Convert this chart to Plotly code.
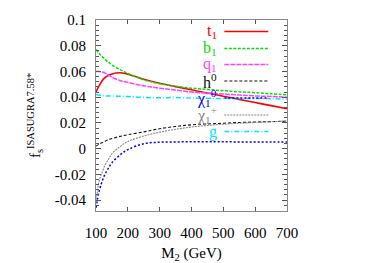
import plotly.graph_objects as go

# ---- data ----
m2 = [100, 110, 120, 130, 140, 150, 175, 200, 250, 300, 350, 400, 450, 500, 550, 600, 650, 700]

t1 = [0.044, 0.049, 0.053, 0.0555, 0.057, 0.058, 0.059, 0.0578, 0.054, 0.0508, 0.0482,
      0.0457, 0.0432, 0.0407, 0.0383, 0.0358, 0.0334, 0.031]
b1 = [0.077, 0.074, 0.0715, 0.069, 0.067, 0.065, 0.0615, 0.0585, 0.0535, 0.0505, 0.0485,
      0.047, 0.046, 0.045, 0.0442, 0.0435, 0.0426, 0.0418]
q1 = [0.060, 0.060, 0.0595, 0.0585, 0.057, 0.0555, 0.053, 0.0515, 0.0488, 0.047, 0.0455,
      0.044, 0.0432, 0.0425, 0.0417, 0.041, 0.0405, 0.040]
h0 = [0.002, 0.0035, 0.0048, 0.006, 0.007, 0.0078, 0.0095, 0.0108, 0.013, 0.0155, 0.0172,
      0.0185, 0.0192, 0.0197, 0.0203, 0.0207, 0.021, 0.0213]
chi10 = [-0.046, -0.033, -0.025, -0.019, -0.0148, -0.011, -0.005, -0.0008, 0.0038, 0.005,
         0.0052, 0.0053, 0.0053, 0.0053, 0.0052, 0.0052, 0.0052, 0.0052]
chi1p = [-0.042, -0.025, -0.018, -0.012, -0.008, -0.004, 0.0015, 0.0055, 0.0098, 0.0128,
         0.015, 0.0168, 0.018, 0.019, 0.0197, 0.0203, 0.0209, 0.0215]
gl = [0.042, 0.0415, 0.0412, 0.041, 0.041, 0.041, 0.0407, 0.0405, 0.0398, 0.0395, 0.0397,
      0.0393, 0.0391, 0.039, 0.039, 0.039, 0.0388, 0.0385]

series = [
    ("t<sub>1</sub>", t1, "#ff0000", "solid", 1.6),
    ("b<sub>1</sub>", b1, "#00e000", "3px,1.5px", 1.5),
    ("q<sub>1</sub>", q1, "#ff44ff", "5px,1px", 1.5),
    ("h<sup>0</sup>", h0, "#111111", "3px,2px", 1.1),
    ("χ<sub>1</sub><sup>0</sup>", chi10, "#0000ff", "2px,2px", 1.5),
    ("χ<sub>1</sub><sup>+</sup>", chi1p, "#888888", "2px,1px", 1.1),
    ("g", gl, "#00e5ff", "5px,2px,1px,2px", 1.5),
]

FONT = "Liberation Serif"

fig = go.Figure()
for name, ys, col, dash, w in series:
    fig.add_trace(go.Scatter(x=m2, y=ys, mode="lines", name=name,
                             line=dict(color=col, dash=dash, width=w, shape="spline"),
                             showlegend=False))

# custom legend: text on the left, line sample on the right
row_px = [31.5, 48.5, 64.5, 81, 98, 115, 131.5]
top, bot = 20, 211
for (name, ys, col, dash, w), ypx in zip(series, row_px):
    yp = (bot - ypx) / (bot - top)
    fig.add_shape(type="line", xref="paper", yref="paper", x0=0.672, x1=0.902, y0=yp, y1=yp,
                  line=dict(color=col, dash=dash, width=w))
    fig.add_annotation(xref="paper", yref="paper", x=0.645, y=yp, text=name, showarrow=False,
                       xanchor="right", yanchor="middle", font=dict(family=FONT, size=16, color=col))

axis_common = dict(showline=True, linecolor="#888888", linewidth=1.2, mirror="ticks",
                   ticks="inside", tickcolor="#555555", showgrid=False, zeroline=False,
                   automargin=False,
                   tickfont=dict(family=FONT, size=15, color="black"))

fig.update_xaxes(range=[100, 700], tickvals=[100, 200, 300, 400, 500, 600, 700], ticklen=4,
                 ticklabelstandoff=8,
                 title=dict(text="M<sub>2</sub> (GeV)", font=dict(family=FONT, size=15, color="black"),
                            standoff=16),
                 **axis_common)
fig.update_yaxes(range=[-0.0485, 0.1], tickvals=[-0.04, -0.02, 0, 0.02, 0.04, 0.06, 0.08, 0.1],
                 ticktext=["-0.04", "-0.02", "0", "0.02", "0.04", "0.06", "0.08", "0.1"],
                 ticklen=5, ticklabelstandoff=6,
                 minor=dict(dtick=0.004, ticks="inside", ticklen=2.5, tickcolor="#555555"),
                 title=dict(text="f<sub>s</sub><sup>ISASUGRA7.58*</sup>",
                            font=dict(family=FONT, size=15, color="black"), standoff=10),
                 **axis_common)

# page body has an 8px default margin: size the figure to fit and offset the margins
fig.update_layout(width=367, height=255, margin=dict(l=88, r=88, t=12, b=52),
                  paper_bgcolor="white", plot_bgcolor="white")

fig.write_html("out.html")
